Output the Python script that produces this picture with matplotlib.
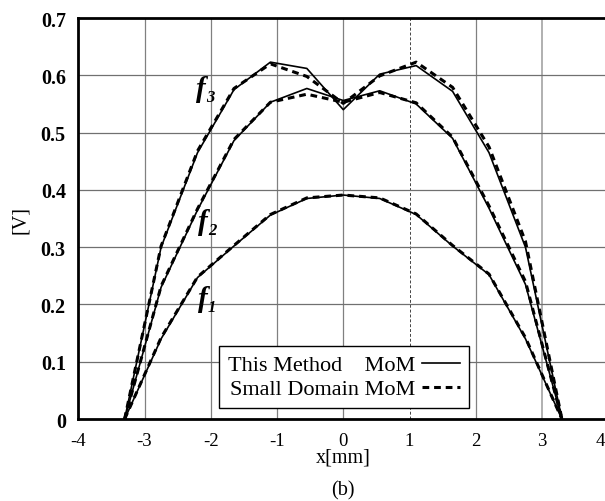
import numpy as np
import matplotlib
matplotlib.use('Agg')
import matplotlib.pyplot as plt
import matplotlib.transforms as mtransforms
from matplotlib.lines import Line2D

# sample positions [mm]
x = [-3.3, -2.75, -2.2, -1.65, -1.1, -0.55, 0.0, 0.55, 1.1, 1.65, 2.2, 2.75, 3.3]

# This Method MoM
f1_mom = [0, 0.140, 0.247, 0.302, 0.356, 0.385, 0.391, 0.385, 0.357, 0.302, 0.252, 0.140, 0]
f2_mom = [0, 0.230, 0.365, 0.486, 0.553, 0.577, 0.556, 0.573, 0.550, 0.490, 0.368, 0.235, 0]
f3_mom = [0, 0.300, 0.465, 0.575, 0.623, 0.612, 0.540, 0.602, 0.617, 0.572, 0.465, 0.300, 0]

# Small Domain MoM
f1_sd = [0, 0.142, 0.248, 0.303, 0.357, 0.386, 0.391, 0.386, 0.358, 0.303, 0.253, 0.142, 0]
f2_sd = [0, 0.232, 0.367, 0.488, 0.553, 0.567, 0.553, 0.570, 0.552, 0.492, 0.372, 0.240, 0]
f3_sd = [0, 0.302, 0.468, 0.577, 0.620, 0.598, 0.551, 0.599, 0.623, 0.579, 0.475, 0.310, 0]

curve_labels = ['1', '2', '3']
label_pos = [(-2.2, 0.210), (-2.2, 0.345), (-2.22, 0.577)]

xticks = [-4, -3, -2, -1, 0, 1, 2, 3, 4]
yticks = [0, 0.1, 0.2, 0.3, 0.4, 0.5, 0.6, 0.7]

plt.rcParams['font.family'] = ['Liberation Serif', 'DejaVu Serif']

fig = plt.figure(figsize=(6.05, 5.02), dpi=100)
ax = fig.add_axes([0.1294, 0.1633, 0.876, 0.7988])

# grid
for xv in xticks[1:-1]:
    if xv == 1:
        ax.axvline(xv, color='#444444', lw=0.7, ls=(0, (3, 2)), zorder=1)
    elif xv == 3:
        ax.axvline(xv, color='#b0b0b0', lw=1.4, zorder=1)
    else:
        ax.axvline(xv, color='#808080', lw=0.9, zorder=1)
for yv in yticks[1:-1]:
    ax.axhline(yv, color='#707070', lw=0.9, zorder=1)

for ys in (f1_mom, f2_mom, f3_mom):
    ax.plot(x, ys, color='black', lw=1.2, zorder=3)
for ys in (f1_sd, f2_sd, f3_sd):
    ax.plot(x, ys, color='black', lw=2.2, dashes=(2.2, 1.6), zorder=2)

for lab, (lx, ly) in zip(curve_labels, label_pos):
    ax.text(lx, ly, 'f', fontsize=21, fontweight='bold', fontstyle='italic',
            ha='left', va='center', zorder=4)
    ax.annotate(lab, xy=(lx, ly), xytext=(7.5, -6), textcoords='offset points',
                fontsize=12, fontweight='bold', fontstyle='italic',
                ha='left', va='center', zorder=4)

ax.set_xlim(-4, 4)
ax.set_ylim(0, 0.7)
ax.set_xticks(xticks)
ax.set_xticklabels([str(v) for v in xticks], fontsize=13.5)
ax.set_yticks(yticks)
ax.set_yticklabels(['0'] + ['%.1f' % v for v in yticks[1:]], fontsize=14.5,
                   fontweight='bold')
ax.tick_params(length=0)
ax.tick_params(axis='x', pad=9)
ax.tick_params(axis='y', pad=9)

# last x label sits at the cropped right edge; nudge it in a little
last = ax.get_xticklabels()[-1]
last.set_transform(last.get_transform() +
                   mtransforms.ScaledTranslation(-6 / 72, 0, fig.dpi_scale_trans))

for side in ('left', 'bottom', 'top'):
    ax.spines[side].set_linewidth(2)
ax.spines['right'].set_visible(False)

ax.set_xlabel('x[mm]', fontsize=14.5, labelpad=-1)
ax.set_ylabel('[V]', fontsize=14.5, labelpad=8)

handles = [Line2D([], [], color='black', lw=1.2),
           Line2D([], [], color='black', lw=2.2, dashes=(2.2, 1.6))]
leg = ax.legend(handles, ['This Method    MoM', 'Small Domain MoM'],
                loc='lower left', bbox_to_anchor=(0.266, 0.027),
                borderaxespad=0, markerfirst=False, fontsize=16,
                handlelength=1.7, handletextpad=0.3, labelspacing=0.15,
                borderpad=0.4, fancybox=False, framealpha=1,
                edgecolor='black')
leg.get_frame().set_linewidth(1.0)

fig.text(343 / 605, 1 - 491 / 502, '(b)', fontsize=14.5, ha='center', va='center')

fig.savefig('out.png', dpi=100)
